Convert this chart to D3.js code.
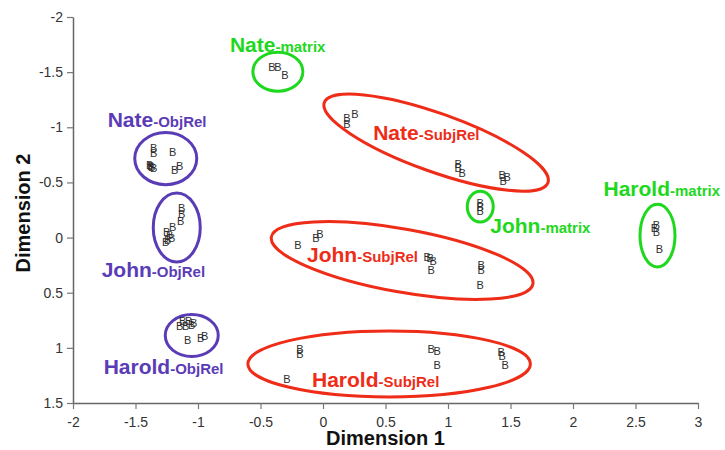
<!DOCTYPE html>
<html>
<head>
<meta charset="utf-8">
<script src="https://cdn.jsdelivr.net/npm/d3@7"></script>
<style>
  html, body { margin: 0; padding: 0; background: #fff; }
  svg { display: block; font-family: "Liberation Sans", Arial, Helvetica, sans-serif; }
</style>
</head>
<body>
<svg id="chart" width="725" height="450"></svg>
<script>
// ---- Data ----
const xTicks = [-2, -1.5, -1, -0.5, 0, 0.5, 1, 1.5, 2, 2.5, 3];
const yTicks = [-2, -1.5, -1, -0.5, 0, 0.5, 1, 1.5];
const xTitle = "Dimension 1";
const yTitle = "Dimension 2";

const clusterNames = ["Nate", "John", "Harold", "Nate", "John", "Harold", "Nate", "John", "Harold"];
const clusterConditions = ["ObjRel", "ObjRel", "ObjRel", "SubjRel", "SubjRel", "SubjRel", "matrix", "matrix", "matrix"];
const conditionColors = { ObjRel: "#5a3cb6", SubjRel: "#ee2c18", matrix: "#1ed81e" };

// points of each cluster, [dimension1, dimension2]
const nateObjRel = [[-1.354,-0.815],[-1.354,-0.770],[-1.202,-0.779],[-1.386,-0.661],[-1.370,-0.643],[-1.354,-0.634],[-1.378,-0.652],[-1.186,-0.616],[-1.146,-0.652]];
const johnObjRel = [[-1.130,-0.272],[-1.130,-0.217],[-1.138,-0.154],[-1.202,-0.100],[-1.250,-0.054],[-1.226,-0.027],[-1.242,0.018],[-1.210,0.000],[-1.258,0.045]];
const haroldObjRel = [[-1.122,0.761],[-1.074,0.761],[-1.034,0.779],[-1.146,0.806],[-1.098,0.806],[-1.050,0.797],[-1.082,0.933],[-0.978,0.915],[-0.946,0.897]];
const nateSubjRel = [[0.192,-1.087],[0.192,-1.033],[0.256,-1.123],[1.082,-0.670],[1.082,-0.634],[1.114,-0.589],[1.434,-0.571],[1.474,-0.553],[1.442,-0.516]];
const johnSubjRel = [[-0.200,0.072],[-0.056,0.000],[-0.024,-0.036],[0.833,0.181],[0.857,0.190],[0.881,0.217],[0.865,0.290],[1.266,0.245],[1.266,0.290],[1.258,0.426]];
const haroldSubjRel = [[-0.184,1.014],[-0.184,1.060],[-0.288,1.286],[0.865,1.014],[0.913,1.033],[0.913,1.159],[1.426,1.042],[1.434,1.078],[1.458,1.159]];
const nateMatrix = [[-0.409,-1.549],[-0.361,-1.549],[-0.304,-1.476]];
const johnMatrix = [[1.258,-0.317],[1.258,-0.281],[1.258,-0.245]];
const haroldMatrix = [[2.668,-0.118],[2.652,-0.082],[2.668,-0.054],[2.692,0.100]];
const clusterPoints = [nateObjRel, johnObjRel, haroldObjRel, nateSubjRel, johnSubjRel, haroldSubjRel, nateMatrix, johnMatrix, haroldMatrix];

// enclosing ellipses in data units: centre, semi-axes, tilt (deg)
const ellipseCx = [-1.258, -1.170, -1.050, 0.905, 0.633, 0.529, -0.361, 1.258, 2.676];
const ellipseCy = [-0.716, -0.091, 0.888, -0.861, 0.208, 1.146, -1.504, -0.281, -0.018];
const ellipseRx = [0.248, 0.188, 0.212, 0.950, 1.063, 1.130, 0.200, 0.104, 0.140];
const ellipseRy = [0.236, 0.3125, 0.190, 0.264, 0.286, 0.299, 0.177, 0.140, 0.285];
const ellipseTilt = [0, 0, 0, 19.7, 10.2, 0, 0, 0, 0];

// label anchor (start of text, baseline) in data units
const labelX = [-1.723, -1.771, -1.755, 0.401, -0.128, -0.088, -0.745, 1.338, 2.244];
const labelY = [-1.005, 0.362, 1.241, -0.888, 0.226, 1.359, -1.685, -0.045, -0.380];

// ---- Chart ----
const svg = d3.select("#chart");
const x = d3.scaleLinear().domain([-2, 3]).range([73, 698]);
const y = d3.scaleLinear().domain([-2, 1.5]).range([17, 403]);

const fmt = d => String(d);

// axes
const gx = svg.append("g").attr("transform", `translate(0,${y(1.5)})`)
  .call(d3.axisBottom(x).tickValues(xTicks).tickFormat(fmt).tickSize(6).tickSizeOuter(0).tickPadding(8));
const gy = svg.append("g").attr("transform", `translate(${x(-2)},0)`)
  .call(d3.axisLeft(y).tickValues(yTicks).tickFormat(fmt).tickSize(6).tickSizeOuter(0).tickPadding(4));
[gx, gy].forEach(g => {
  g.select(".domain").attr("stroke", "#666").attr("stroke-width", 1.5);
  g.selectAll(".tick line").attr("stroke", "#777").attr("stroke-width", 1.2);
  g.selectAll(".tick text").attr("fill", "#333").attr("font-size", 14)
    .attr("font-family", "'Liberation Sans', Arial, sans-serif");
});

svg.append("text").attr("x", (x(-2) + x(3)) / 2).attr("y", 445)
  .attr("text-anchor", "middle").attr("font-size", 20).attr("font-weight", "bold").attr("fill", "#111")
  .text(xTitle);
svg.append("text").attr("transform", `translate(30,${(y(-2) + y(1.5)) / 2 + 3}) rotate(-90)`)
  .attr("text-anchor", "middle").attr("font-size", 20).attr("font-weight", "bold").attr("fill", "#111")
  .text(yTitle);

const ux = x(1) - x(0), uy = y(1) - y(0);

// ellipses
clusterNames.forEach((n, i) => {
  const col = conditionColors[clusterConditions[i]];
  svg.append("ellipse")
    .attr("transform", `translate(${x(ellipseCx[i])},${y(ellipseCy[i])}) rotate(${ellipseTilt[i]})`)
    .attr("rx", ellipseRx[i] * ux).attr("ry", ellipseRy[i] * uy)
    .attr("fill", "none").attr("stroke", col).attr("stroke-width", 3);
});

// points drawn as "B"
const pointLayer = svg.append("g").attr("opacity", 0.98);
clusterPoints.forEach(pts => {
  pointLayer.append("g").selectAll("text").data(pts).join("text")
    .attr("x", d => x(d[0])).attr("y", d => y(d[1]))
    .attr("text-anchor", "middle").attr("dy", "0.36em")
    .attr("font-size", 11).attr("fill", "#2a2a2a")
    .attr("font-family", "'Liberation Sans', Arial, sans-serif")
    .text("B");
});

// labels
clusterNames.forEach((n, i) => {
  const col = conditionColors[clusterConditions[i]];
  const t = svg.append("text").attr("x", x(labelX[i])).attr("y", y(labelY[i]))
    .attr("fill", col).attr("font-weight", "bold");
  t.append("tspan").attr("font-size", 21).text(n);
  t.append("tspan").attr("font-size", 15).text("-" + clusterConditions[i]);
});
</script>
</body>
</html>
